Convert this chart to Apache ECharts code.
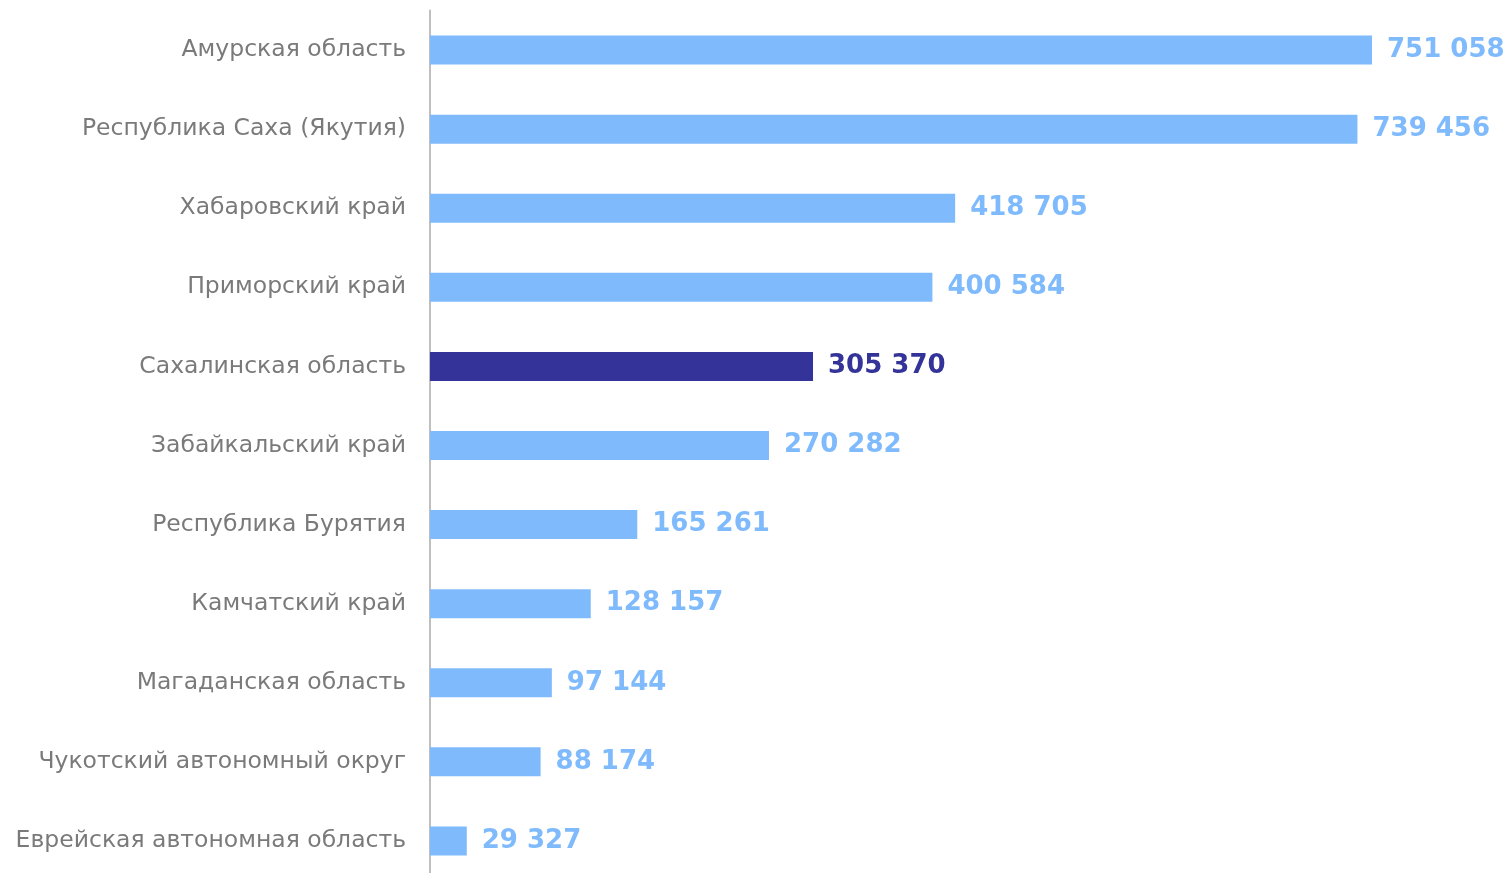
<!DOCTYPE html>
<html><head><meta charset="utf-8">
<script src="https://cdn.jsdelivr.net/npm/echarts@6/dist/echarts.min.js"></script>
<style>html,body{margin:0;padding:0;background:#fff}#c{width:1509px;height:873px}</style>
</head><body><div id="c"></div>
<script>
const categories = ["Амурская область","Республика Саха (Якутия)","Хабаровский край","Приморский край","Сахалинская область","Забайкальский край","Республика Бурятия","Камчатский край","Магаданская область","Чукотский автономный округ","Еврейская автономная область"];
const values = [751058,739456,418705,400584,305370,270282,165261,128157,97144,88174,29327];
const highlight = "Сахалинская область";
const LIGHT = "#7fbafc", DARK = "#333399";
const FONT = "'DejaVu Sans', sans-serif";
function fmt(v){return String(v).replace(/\B(?=(\d{3})+(?!\d))/g," ");}
const chart = echarts.init(document.getElementById('c'));
chart.setOption({
  animation:false,
  grid:{left:430, top:10.5, width:942, height:870, outerBoundsMode:'none', containLabel:false},
  xAxis:{type:'value', min:0, max:751058, show:false},
  yAxis:{type:'category', data:categories, inverse:true,
    axisLine:{lineStyle:{color:'#bfbfbf', width:2}},
    axisTick:{show:false},
    axisLabel:{color:'#7a7a7a', fontSize:23.5, fontFamily:FONT, margin:24, padding:[4,0,0,0]}},
  series:[{type:'bar', barWidth:29,
    data: values.map((v,i)=>({value:v, itemStyle:{color: categories[i]===highlight?DARK:LIGHT},
      label:{color: categories[i]===highlight?DARK:LIGHT}})),
    label:{show:true, position:'right', distance:15, fontSize:26, fontWeight:'bold',
      fontFamily:FONT, padding:[2,0,0,0], formatter:p=>fmt(p.value)}
  }]
});
</script></body></html>
